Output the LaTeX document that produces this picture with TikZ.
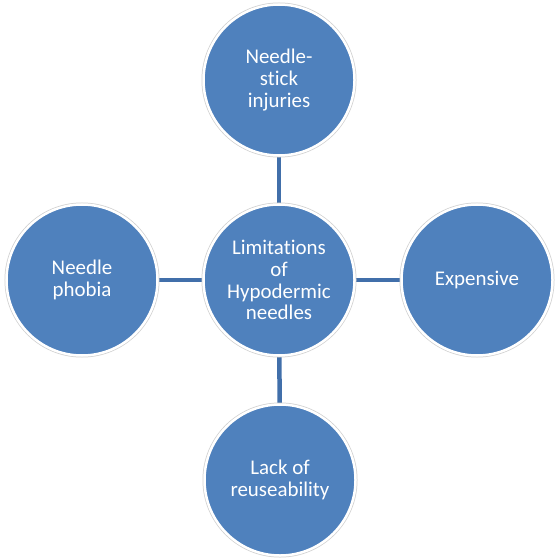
\documentclass[tikz,border=0pt]{standalone}
\usepackage{fontspec}
\setmainfont{Carlito}[Ligatures=NoCommon]
\definecolor{cfill}{HTML}{4F81BD}
\definecolor{cline}{HTML}{416FAA}
\begin{document}
\begin{tikzpicture}[x=1bp,y=-1bp,
  bub/.style={circle,fill=cfill,draw=white,line width=2.5bp,minimum size=151bp,inner sep=0pt,
    align=center,text=white,font=\fontsize{21}{22}\selectfont,
    preaction={draw=black!18,line width=4bp}},
  link/.style={draw=cline,line width=4.5bp}]
\useasboundingbox (0,0) rectangle (557,558);
\coordinate (pc) at (279,280);
\coordinate (pt) at (279,80);
\coordinate (pb) at (280,480);
\coordinate (pl) at (82,280);
\coordinate (pr) at (477,280);
\draw[link] (pc) -- (pt);
\draw[link] (pc) -- (pb);
\draw[link] (pc) -- (pl);
\draw[link] (pc) -- (pr);
\node[bub] (center) at (pc) {Limitations\\of\\Hypodermic\\needles};
\node[bub] (top) at (pt) {Needle-\\stick\\injuries};
\node[bub] (bottom) at (pb) {Lack of\\reuseability};
\node[bub] (left) at (pl) {Needle\\phobia};
\node[bub] (right) at (pr) {Expensive};
\end{tikzpicture}
\end{document}
